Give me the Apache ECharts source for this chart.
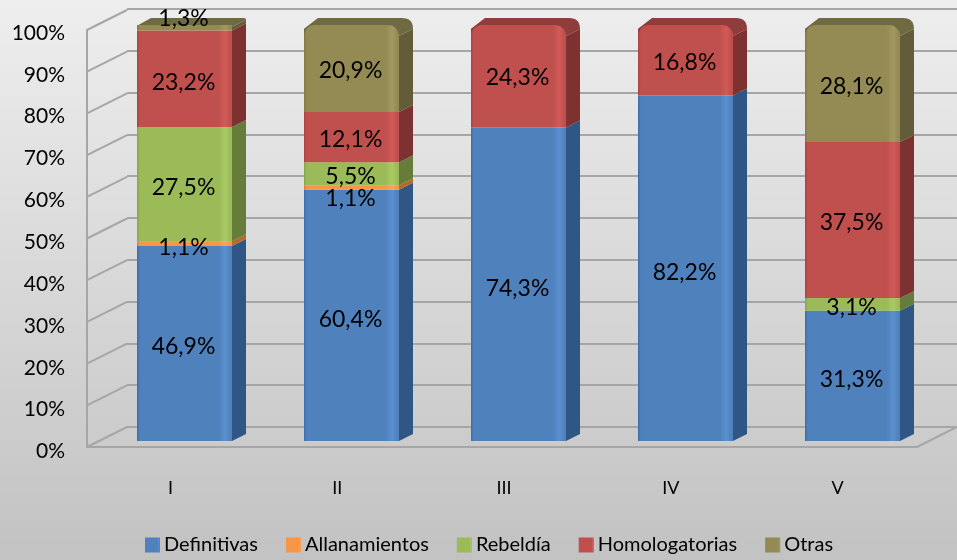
<!DOCTYPE html>
<html><head><meta charset="utf-8">
<style>html,body{margin:0;padding:0}#c{width:957px;height:560px}</style>
<script src="https://cdn.jsdelivr.net/npm/echarts@6/dist/echarts.min.js"></script>
</head><body><div id="c"></div>
<script>
const categories = ['I','II','III','IV','V'];
const tickValues = [0,10,20,30,40,50,60,70,80,90,100];
const definitivas    = [46.9,60.4,74.3,82.2,31.3];
const allanamientos  = [1.1,1.1,null,null,null];
const rebeldia       = [27.5,5.5,null,null,3.1];
const homologatorias = [23.2,12.1,24.3,16.8,37.5];
const otras          = [1.3,20.9,null,null,28.1];
const names = ['Definitivas','Allanamientos','Rebeldía','Homologatorias','Otras'];
const values = [definitivas,allanamientos,rebeldia,homologatorias,otras];
const colors = ['#4f81bd','#f79646','#9bbb59','#c0504d','#948a54'];
const lights = ['#5b90d0','#fba35c','#a9cb64','#d25a57','#a39860'];
const darks  = ['#3f6da6','#d8803a','#86a34a','#a94442','#827946'];
const sides  = ['#2f5684','#b5692c','#667c3a','#7d3231','#625c38'];
const tops   = ['#3a659b','#c9763a','#7a9248','#8f3d3b','#6f6a40'];
// manual label moves of the original, per series then category
const labelMoves = [[3,4,4,4,4],[4,11,0,0,0],[3,3,0,0,3],[4,2,1,2,3],[-9,2,0,0,3]];

const DX = 14, DY = 7, BW = 95, R = 11;
const totals = categories.map((_,i)=>values.reduce((s,a)=>s+(a[i]||0),0));
const shares = values.map(a=>a.map((v,i)=>v==null?null:v/totals[i]*100));
const topIdx = categories.map((_,i)=>{let t=-1;values.forEach((a,s)=>{if(a[i]!=null)t=s});return t;});

const barSeries = names.map((n,s)=>({
  name:n,type:'bar',stack:'t',xAxisIndex:0,yAxisIndex:0,barWidth:BW,z:5,
  data:shares[s].map((v,i)=>({
    value:v,
    itemStyle:{borderRadius:(topIdx[i]===s && v>5)?[R,R,0,0]:0},
    label:{offset:[-1,labelMoves[s][i]]}
  })),
  itemStyle:{color:{type:'linear',x:0,y:0,x2:1,y2:0,colorStops:[
    {offset:0,color:darks[s]},{offset:.03,color:colors[s]},{offset:.86,color:colors[s]},
    {offset:.93,color:lights[s]},{offset:.98,color:colors[s]},{offset:1,color:colors[s]}]}},
  label:{show:true,position:'inside',color:'#000',fontFamily:'Lato',fontSize:23,
    formatter:p=>values[s][p.dataIndex].toFixed(1).replace('.',',')+'%'},
  emphasis:{disabled:true}
}));

// side and top faces of each segment, from the same stacked values
const faces=[];
names.forEach((n,s)=>categories.forEach((c,i)=>{
  if(shares[s][i]==null) return;
  let b=0; for(let k=0;k<s;k++) b+=shares[k][i]||0;
  faces.push([i,b,b+shares[s][i],s,topIdx[i]===s?1:0]);
}));
const faceSeries={type:'custom',xAxisIndex:0,yAxisIndex:0,z:4,silent:true,
  encode:{x:0,y:[1,2]},data:faces,
  renderItem(p,api){
    const i=api.value(0),s=api.value(3),top=api.value(4);
    const a=api.coord([i,api.value(1)]),b=api.coord([i,api.value(2)]);
    const xr=a[0]+BW/2,xl=a[0]-BW/2,ya=a[1],yb=b[1];
    const kids=[];
    if(top){
      const r=(ya-yb)>20?R:2;
      kids.push({type:'polygon',shape:{points:[[xr,ya],[xr+DX,ya-DY],[xr+DX,yb-DY+r],[xr,yb+r]]},style:{fill:sides[s]}});
      kids.push({type:'path',shape:{pathData:
        `M${xl} ${yb+r}L${xl} ${yb+r/3}L${xl+DX} ${yb-DY}L${xr+DX-r} ${yb-DY}Q${xr+DX} ${yb-DY} ${xr+DX} ${yb-DY+r}L${xr} ${yb+r}Z`},
        style:{fill:tops[s]}});
    } else {
      kids.push({type:'polygon',shape:{points:[[xr,ya],[xr+DX,ya-DY],[xr+DX,yb-DY],[xr,yb]]},style:{fill:sides[s]}});
    }
    return {type:'group',children:kids};
  }};

// diagonal wall lines from the front axis to the back wall
const wallSeries={type:'custom',xAxisIndex:1,yAxisIndex:1,z:1,silent:true,
  data:tickValues.map(v=>[0,v]).concat([[1,0]]),encode:{x:0,y:1},
  renderItem(p,api){
    const a=api.coord([api.value(0),api.value(1)]);
    return {type:'line',shape:{x1:a[0],y1:a[1],x2:a[0]+40,y2:a[1]-20},
      style:{stroke:'#a6a6a6',lineWidth:2}};
  }};

const chart=echarts.init(document.getElementById('c'),null,{renderer:'canvas'});
chart.setOption({
  animation:false,
  backgroundColor:{type:'linear',x:0,y:0,x2:0,y2:1,colorStops:[{offset:0,color:'#eeeeee'},{offset:1,color:'#c2c2c2'}]},
  textStyle:{fontFamily:'Lato',color:'#000'},
  grid:[
    {left:101,width:835,top:25,height:416},
    {left:87,width:830,top:30,height:417},
    {left:127,width:830,top:9,height:418},
    {left:87,width:834,top:33,height:418.5}
  ],
  xAxis:[
    {gridIndex:0,type:'category',data:categories,show:false},
    {gridIndex:1,type:'value',min:0,max:1,
     axisLine:{show:true,onZero:false,lineStyle:{color:'#a6a6a6',width:2}},axisTick:{show:false},axisLabel:{show:false},splitLine:{show:false}},
    {gridIndex:2,type:'value',min:0,max:1,show:false},
    {gridIndex:3,type:'category',data:categories,
     axisLine:{show:false},axisTick:{show:false},
     axisLabel:{margin:28,fontSize:18,color:'#000',fontFamily:'Lato'}}
  ],
  yAxis:[
    {gridIndex:0,type:'value',min:0,max:100,show:false},
    {gridIndex:1,type:'value',min:0,max:100,interval:10,
     axisLine:{show:true,lineStyle:{color:'#a6a6a6',width:2}},axisTick:{show:false},splitLine:{show:false},axisLabel:{show:false}},
    {gridIndex:2,type:'value',min:0,max:100,interval:10,axisLine:{show:false},axisTick:{show:false},axisLabel:{show:false},
     splitLine:{show:true,lineStyle:{color:'#a6a6a6',width:2}}},
    {gridIndex:3,type:'value',min:0,max:100,interval:10,
     axisLine:{show:false},axisTick:{show:false},splitLine:{show:false},
     axisLabel:{margin:22,fontSize:21,color:'#000',fontFamily:'Lato',formatter:'{value}%'}}
  ],
  legend:{data:names,bottom:0,left:140,itemWidth:15,itemHeight:15,itemGap:28,icon:'rect',
    textStyle:{fontFamily:'Lato',fontSize:20,color:'#000',padding:[3,0,0,-1]}},
  series:[wallSeries,faceSeries,...barSeries]
});
</script></body></html>
